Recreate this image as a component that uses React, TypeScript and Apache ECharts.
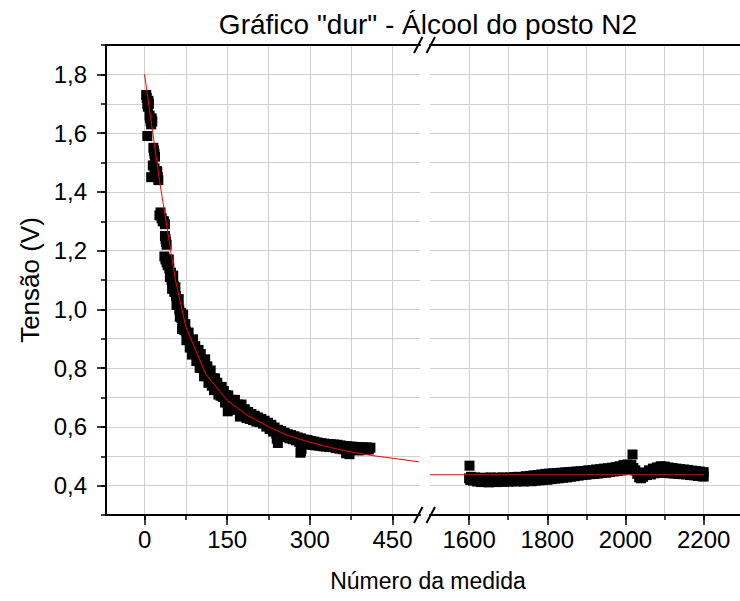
import React, { useEffect, useRef } from "react";
import * as echarts from "echarts";

// ---- data ----
const leftX = [
  3, 4, 5, 6, 7, 8,
  9, 10, 11, 12, 13, 14,
  5,
  16, 17, 18, 19,
  15, 18, 21, 23,
  12, 24, 25,
  27, 29, 31, 33, 35, 37,
  37, 38, 39, 40,
  36, 38, 40, 42,
  44, 46, 48, 50, 52, 54, 56, 58, 60, 62, 64, 66, 68, 70, 72, 74, 76, 78,
  45, 47, 49, 51, 53, 55, 57, 59, 61, 63, 65, 67, 69, 71, 73, 75, 77, 79,
  80, 82, 84, 86, 88, 90, 92, 94, 96, 98, 100, 102, 104, 106, 108, 110,
  112, 114, 116, 118, 120, 122, 124, 126, 128, 130, 132, 134, 136, 138, 140,
  142, 144, 146, 148, 150, 151,
  152, 155, 158, 161, 164, 167, 170, 173, 176, 179, 182, 185, 188, 191, 194, 197,
  200, 203, 206, 209, 212, 215, 218, 221, 224, 227, 230, 233, 236, 239, 240,
  242, 242, 245, 248, 251, 254, 257, 260, 263, 266, 269, 272, 275, 278, 281,
  283, 284, 284, 285, 287, 290, 293, 296, 299,
  302, 305, 308, 311, 314, 317, 320, 323, 326, 329, 332, 335, 338, 341, 344, 347,
  350, 353, 356, 359, 362, 365, 366, 368, 371, 372, 374, 377, 380, 383, 386, 389,
  392, 395, 398, 401, 404, 407, 410,
];
const leftY = [
  1.73, 1.72, 1.7, 1.69, 1.71, 1.7,
  1.66, 1.65, 1.64, 1.63, 1.65, 1.64,
  1.59,
  1.55, 1.54, 1.53, 1.52,
  1.49, 1.48, 1.47, 1.47,
  1.45, 1.45, 1.44,
  1.32, 1.33, 1.31, 1.3, 1.3, 1.29,
  1.25, 1.24, 1.23, 1.22,
  1.18, 1.17, 1.16, 1.15,
  1.17, 1.11, 1.125, 1.07, 1.115, 1.06, 1.075, 1.015, 1.025, 1.035, 0.975, 0.988, 0.933, 0.982, 0.93, 0.95, 0.895, 0.907,
  1.14, 1.12, 1.1, 1.09, 1.08, 1.06, 1.045, 1.03, 1.015, 1.0, 0.985, 0.97, 0.957, 0.946, 0.935, 0.925, 0.913, 0.902,
  0.921, 0.87, 0.893, 0.846, 0.898, 0.851, 0.875, 0.824, 0.843, 0.862, 0.801, 0.848, 0.8, 0.823, 0.772, 0.83,
  0.783, 0.806, 0.75, 0.773, 0.792, 0.74, 0.765, 0.725, 0.765, 0.73, 0.75, 0.71, 0.736, 0.706, 0.736,
  0.702, 0.722, 0.683, 0.708, 0.684, 0.653,
  0.707, 0.667, 0.692, 0.662, 0.692, 0.658, 0.676, 0.635, 0.676, 0.642, 0.66, 0.63, 0.651, 0.627, 0.644, 0.623,
  0.638, 0.618, 0.632, 0.616, 0.627, 0.611, 0.621, 0.601, 0.614, 0.593, 0.607, 0.584, 0.598, 0.577, 0.56,
  0.59, 0.545, 0.573, 0.586, 0.569, 0.58, 0.565, 0.575, 0.561, 0.572, 0.558, 0.568, 0.554, 0.564, 0.548,
  0.512, 0.561, 0.518, 0.525, 0.544, 0.557, 0.541, 0.555, 0.54,
  0.552, 0.539, 0.55, 0.537, 0.547, 0.536, 0.545, 0.534, 0.543, 0.533, 0.542, 0.532, 0.541, 0.531, 0.54, 0.528,
  0.539, 0.526, 0.537, 0.524, 0.535, 0.523, 0.51, 0.534, 0.522, 0.507, 0.533, 0.521, 0.532, 0.521, 0.531, 0.52,
  0.53, 0.521, 0.53, 0.521, 0.53, 0.523, 0.529,
];

const rightX = [
  1600, 1601, 1603, 1605, 1610, 1615, 1620, 1625, 1630, 1635, 1640, 1645,
  1650, 1655, 1660, 1665, 1670, 1675, 1680, 1685, 1690, 1695,
  1700, 1705, 1710, 1715, 1720, 1725, 1730, 1735, 1740, 1745,
  1750, 1755, 1760, 1765, 1770, 1775, 1780, 1785, 1790, 1795,
  1800, 1805, 1810, 1815, 1820, 1825, 1830, 1835, 1840, 1845,
  1850, 1855, 1860, 1865, 1870, 1875, 1880, 1885, 1890, 1895,
  1900, 1905, 1910, 1915, 1920, 1925, 1930, 1935, 1940, 1945,
  1950, 1955, 1960, 1965, 1970, 1975, 1980, 1985, 1990, 1995,
  2000, 2005, 2010, 2015, 2018, 2020, 2025, 2030, 2035, 2040, 2045,
  2050, 2055, 2060, 2065, 2070, 2075, 2080, 2085, 2090, 2095,
  2100, 2105, 2110, 2115, 2120, 2125, 2130, 2135, 2140, 2145,
  2150, 2155, 2160, 2165, 2170, 2175, 2180, 2185, 2190, 2195, 2200, 2200,
];
const rightY = [
  0.425, 0.468, 0.419, 0.43, 0.417, 0.428, 0.414, 0.426, 0.412, 0.427, 0.413, 0.425,
  0.411, 0.428, 0.414, 0.426, 0.412, 0.427, 0.415, 0.428, 0.413, 0.426,
  0.414, 0.428, 0.415, 0.429, 0.414, 0.43, 0.416, 0.429, 0.414, 0.432,
  0.416, 0.433, 0.415, 0.435, 0.417, 0.436, 0.418, 0.438, 0.419, 0.44,
  0.42, 0.441, 0.422, 0.442, 0.424, 0.443, 0.425, 0.444, 0.427, 0.445,
  0.428, 0.446, 0.43, 0.447, 0.432, 0.448, 0.434, 0.449, 0.436, 0.45,
  0.437, 0.452, 0.439, 0.453, 0.44, 0.455, 0.441, 0.456, 0.443, 0.458,
  0.444, 0.459, 0.446, 0.461, 0.448, 0.463, 0.45, 0.466, 0.452, 0.47,
  0.455, 0.472, 0.458, 0.47, 0.506, 0.46, 0.452, 0.44, 0.428, 0.425, 0.43,
  0.445, 0.436, 0.452, 0.438, 0.458, 0.442, 0.462, 0.444, 0.466, 0.445,
  0.465, 0.443, 0.462, 0.442, 0.46, 0.441, 0.458, 0.44, 0.456, 0.439,
  0.455, 0.438, 0.453, 0.436, 0.451, 0.435, 0.45, 0.433, 0.448, 0.432, 0.446, 0.431,
];

const fitLeftX = [0, 27, 56, 75, 111, 150, 186, 225, 261, 299, 336, 373, 415, 498];
const fitLeftY = [1.8, 1.44, 1.1, 0.94, 0.78, 0.69, 0.64, 0.6, 0.57, 0.548, 0.53, 0.515, 0.502, 0.481];
const fitRightX = [1500, 2200];
const fitRightY = [0.437, 0.437];

const leftMajorTicks = [0, 150, 300, 450];
const leftMinorTicks = [0, 75, 150, 225, 300, 375, 450];
const rightMajorTicks = [1600, 1800, 2000, 2200];
const rightMinorTicks = [1600, 1700, 1800, 1900, 2000, 2100, 2200];
const yMajorTicks = [0.4, 0.6, 0.8, 1.0, 1.2, 1.4, 1.6, 1.8];

const TITLE = 'Gráfico "dur" - Álcool do posto N2';
const X_NAME = "Número da medida";
const Y_NAME = "Tensão (V)";

const FONT = "'Liberation Sans', Arial, Helvetica, sans-serif";

export default function App() {
  const ref = useRef<HTMLDivElement>(null);

  useEffect(() => {
    document.body.style.margin = "0";
    if (!ref.current) return;
    const chart = echarts.init(ref.current, undefined, { renderer: "svg" });

    const zip = (xs: number[], ys: number[]) => xs.map((x, i) => [x, ys[i]]);
    const black = "#000";
    const gridColor = "#d0d0d0";

    const xBase = (gridIndex: number, min: number, max: number) => ({
      type: "value" as const,
      gridIndex,
      min,
      max,
      position: "bottom" as const,
    });

    const tickLabel = {
      formatter: (v: number) => String(v),
      fontSize: 24,
      color: black,
      margin: 12,
      fontFamily: FONT,
    };

    const option: any = {
      animation: false,
      backgroundColor: "#fff",
      textStyle: { fontFamily: FONT },
      title: {
        text: TITLE,
        left: 423,
        textAlign: "center",
        top: 5,
        textStyle: { fontSize: 28, fontWeight: "normal", color: black, fontFamily: FONT },
      },
      grid: [
        { left: 106, top: 45, width: 314, height: 470, outerBoundsMode: "none" },
        { left: 430, top: 45, width: 312.8, height: 470, outerBoundsMode: "none" },
      ],
      xAxis: [
        {
          ...xBase(0, -70, 500),
          axisLine: { show: true, onZero: false, lineStyle: { color: black, width: 2 } },
          axisTick: { show: true, customValues: leftMinorTicks, length: 5, lineStyle: { color: black, width: 1.5 } },
          axisLabel: { ...tickLabel, customValues: leftMajorTicks },
          splitLine: { show: true, lineStyle: { color: gridColor, width: 1 } },
        },
        {
          ...xBase(0, -70, 500),
          axisLine: { show: false, onZero: false },
          axisTick: { show: true, customValues: leftMajorTicks, length: 10, lineStyle: { color: black, width: 1.5 } },
          axisLabel: { show: false },
          splitLine: { show: false },
        },
        {
          ...xBase(0, -70, 500),
          position: "top",
          axisLine: { show: true, onZero: false, lineStyle: { color: black, width: 2 } },
          axisTick: { show: false },
          axisLabel: { show: false },
          splitLine: { show: false },
        },
        {
          ...xBase(1, 1500, 2300),
          axisLine: { show: true, onZero: false, lineStyle: { color: black, width: 2 } },
          axisTick: { show: true, customValues: rightMinorTicks, length: 5, lineStyle: { color: black, width: 1.5 } },
          axisLabel: { ...tickLabel, customValues: rightMajorTicks },
          splitLine: { show: true, lineStyle: { color: gridColor, width: 1 } },
        },
        {
          ...xBase(1, 1500, 2300),
          axisLine: { show: false, onZero: false },
          axisTick: { show: true, customValues: rightMajorTicks, length: 10, lineStyle: { color: black, width: 1.5 } },
          axisLabel: { show: false },
          splitLine: { show: false },
        },
        {
          ...xBase(1, 1500, 2300),
          position: "top",
          axisLine: { show: true, onZero: false, lineStyle: { color: black, width: 2 } },
          axisTick: { show: false },
          axisLabel: { show: false },
          splitLine: { show: false },
        },
      ],
      yAxis: [
        {
          type: "value",
          gridIndex: 0,
          min: 0.3,
          max: 1.9,
          interval: 0.1,
          position: "left",
          name: Y_NAME,
          nameLocation: "middle",
          nameRotate: 90,
          nameGap: 63,
          nameTextStyle: { fontSize: 26, color: black, fontFamily: FONT },
          axisLine: { show: true, onZero: false, lineStyle: { color: black, width: 2 } },
          axisTick: { show: true, length: 5, lineStyle: { color: black, width: 1.5 } },
          axisLabel: {
            formatter: (v: number) => {
              const t = Math.round(v * 10);
              return t % 2 === 0 ? (t / 10).toFixed(1).replace(".", ",") : "";
            },
            fontSize: 24,
            color: black,
            margin: 19,
            fontFamily: FONT,
          },
          splitLine: { show: true, showMinLine: false, showMaxLine: false, lineStyle: { color: gridColor, width: 1 } },
        },
        {
          type: "value",
          gridIndex: 0,
          min: 0.3,
          max: 1.9,
          position: "left",
          axisLine: { show: false, onZero: false },
          axisTick: { show: true, customValues: yMajorTicks, length: 9, lineStyle: { color: black, width: 1.5 } },
          axisLabel: { show: false },
          splitLine: { show: false },
        },
        {
          type: "value",
          gridIndex: 1,
          min: 0.3,
          max: 1.9,
          interval: 0.1,
          position: "left",
          axisLine: { show: false, onZero: false },
          axisTick: { show: false },
          axisLabel: { show: false },
          splitLine: { show: true, showMinLine: false, showMaxLine: false, lineStyle: { color: gridColor, width: 1 } },
        },
      ],
      series: [
        {
          type: "scatter",
          xAxisIndex: 0,
          yAxisIndex: 0,
          data: zip(leftX, leftY),
          symbol: "rect",
          symbolSize: 10,
          itemStyle: { color: black, opacity: 1 },
          z: 3,
        },
        {
          type: "scatter",
          xAxisIndex: 3,
          yAxisIndex: 2,
          data: zip(rightX, rightY),
          symbol: "rect",
          symbolSize: 10,
          itemStyle: { color: black, opacity: 1 },
          z: 3,
        },
        {
          type: "line",
          xAxisIndex: 0,
          yAxisIndex: 0,
          data: zip(fitLeftX, fitLeftY),
          showSymbol: false,
          symbol: "none",
          lineStyle: { color: "#ff0000", width: 1 },
          z: 5,
        },
        {
          type: "line",
          xAxisIndex: 3,
          yAxisIndex: 2,
          data: zip(fitRightX, fitRightY),
          showSymbol: false,
          symbol: "none",
          lineStyle: { color: "#ff0000", width: 1 },
          z: 5,
        },
      ],
      graphic: [
        {
          type: "text",
          x: 428,
          y: 581,
          style: {
            text: X_NAME,
            fontSize: 23,
            fontFamily: FONT,
            fill: black,
            align: "center",
            verticalAlign: "middle",
            textAlign: "center",
            textVerticalAlign: "middle",
          },
        },
        // axis-break marks (bottom)
        { type: "line", shape: { x1: 414, y1: 523, x2: 422.5, y2: 507 }, style: { stroke: black, lineWidth: 2 } },
        { type: "line", shape: { x1: 426.5, y1: 523, x2: 435, y2: 507 }, style: { stroke: black, lineWidth: 2 } },
        // axis-break marks (top)
        { type: "line", shape: { x1: 414, y1: 53, x2: 422.5, y2: 37 }, style: { stroke: black, lineWidth: 2 } },
        { type: "line", shape: { x1: 426.5, y1: 53, x2: 435, y2: 37 }, style: { stroke: black, lineWidth: 2 } },
      ],
    };

    chart.setOption(option);
    return () => chart.dispose();
  }, []);

  return <div ref={ref} style={{ width: 740, height: 601 }} />;
}
